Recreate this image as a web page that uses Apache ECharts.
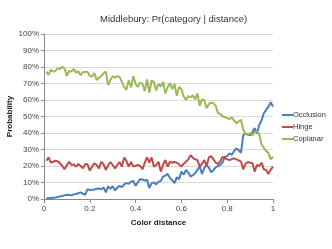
<!DOCTYPE html>
<html><head><meta charset="utf-8">
<script src="https://cdn.jsdelivr.net/npm/echarts@6/dist/echarts.min.js"></script>
<style>html,body{margin:0;padding:0;background:#fff}#c{width:332px;height:249px}</style>
</head><body><div id="c"></div>
<script>
var titleText = 'Middlebury: Pr(category | distance)';
var xTickLabels = ['0','0.2','0.4','0.6','0.8','1'];
var yTickLabels = ['0%','10%','20%','30%','40%','50%','60%','70%','80%','90%','100%'];
var seriesNames = ['Occlusion','Hinge','Coplanar'];
var distance = [0.01,0.02,0.03,0.04,0.05,0.06,0.07,0.08,0.09,0.10,
0.11,0.12,0.13,0.14,0.15,0.16,0.17,0.18,0.19,0.20,
0.21,0.22,0.23,0.24,0.25,0.26,0.27,0.28,0.29,0.30,
0.31,0.32,0.33,0.34,0.35,0.36,0.37,0.38,0.39,0.40,
0.41,0.42,0.43,0.44,0.45,0.46,0.47,0.48,0.49,0.50,
0.51,0.52,0.53,0.54,0.55,0.56,0.57,0.58,0.59,0.60,
0.61,0.62,0.63,0.64,0.65,0.66,0.67,0.68,0.69,0.70,
0.71,0.72,0.73,0.74,0.75,0.76,0.77,0.78,0.79,0.80,
0.81,0.82,0.83,0.84,0.85,0.86,0.87,0.88,0.89,0.90,
0.91,0.92,0.93,0.94,0.95,0.96,0.97,0.98,0.99,1.00];
var occlusion = [0.4,0.5,0.6,0.8,0.9,1.2,1.6,1.8,2.2,2.6,
2.4,2.2,2.8,3.0,3.5,4.0,3.2,2.6,6.0,5.4,
5.6,5.8,6.2,6.4,6.0,7.0,4.0,7.6,6.2,7.8,
5.2,6.8,8.0,7.2,8.8,9.6,9.2,10.4,11.0,8.0,
10.2,12.0,11.8,11.2,11.6,6.6,9.6,10.0,8.8,10.6,
10.8,13.6,14.2,15.2,12.8,11.4,9.6,13.2,12.0,16.6,
14.8,17.6,16.0,13.6,14.4,15.6,17.8,19.6,15.2,18.8,
20.6,19.0,16.2,17.6,19.2,20.0,20.6,22.4,25.6,26.0,
27.6,26.8,29.0,30.6,29.6,28.0,38.6,39.6,39.0,38.6,
40.4,43.0,39.6,45.0,47.6,52.0,54.0,56.0,58.6,56.0];
var hinge = [23.2,25.2,22.0,22.6,23.2,22.8,21.6,20.0,18.0,20.4,
22.6,20.6,21.0,19.6,21.2,20.0,18.6,21.2,21.0,17.2,
19.6,21.6,20.6,18.6,22.6,21.0,17.6,20.4,22.4,20.6,
18.6,20.6,22.4,19.6,25.2,23.0,19.6,22.4,19.6,20.2,
20.6,20.0,18.0,22.0,25.2,22.0,25.2,19.6,20.6,22.6,
16.6,20.8,23.6,19.6,22.6,22.0,22.4,22.0,21.0,19.6,
21.4,22.6,24.0,26.6,25.0,24.0,23.6,19.6,21.4,23.6,
20.0,25.2,26.0,24.0,22.0,21.2,23.0,25.6,24.8,24.0,
23.6,24.2,24.6,24.0,23.4,22.6,18.0,21.4,22.4,22.0,
21.8,16.6,20.6,20.0,22.0,18.0,17.6,15.2,17.8,19.6];
var coplanar = [77.2,75.2,78.4,77.2,77.6,79.2,78.8,80.2,79.0,74.6,
77.6,77.2,78.8,76.6,77.4,75.0,77.0,77.0,77.2,74.6,
74.2,76.4,72.2,73.4,74.4,76.2,77.2,69.0,72.2,74.4,
73.6,74.4,74.0,71.0,68.0,66.2,72.0,67.6,74.4,69.8,
68.0,70.6,69.8,65.4,72.4,64.4,71.8,70.8,65.8,69.8,
68.2,71.0,64.0,67.8,70.2,66.6,69.8,62.6,67.8,66.6,
62.2,60.0,62.4,61.6,62.8,60.4,64.0,56.4,60.4,60.0,
55.0,57.6,58.4,58.0,56.4,52.0,51.6,50.0,49.6,49.0,
48.4,49.4,47.6,46.0,47.0,48.0,42.0,39.6,38.8,40.0,
38.6,40.6,41.0,39.0,33.0,31.0,29.0,28.0,24.0,25.6];
var colors = ['#4A7EBB','#BE4B48','#98B954'];

function pairs(vals){ return distance.map(function(d,i){ return [d, vals[i]]; }); }
var allVals = [occlusion, hinge, coplanar];
var font = 'Liberation Sans, Arial, sans-serif';
var chart = echarts.init(document.getElementById('c'), null, {renderer:'canvas'});
chart.setOption({
  animation:false,
  backgroundColor:'#fff',
  title:{text:titleText,left:100,top:14,padding:0,textStyle:{fontFamily:font,fontSize:9.5,fontWeight:'normal',color:'#333'}},
  grid:{left:44,right:59,top:34,bottom:50,containLabel:false,outerBoundsMode:'none'},
  legend:{orient:'vertical',left:282,top:111,padding:0,itemWidth:11,itemHeight:2,itemGap:4,icon:'rect',
    textStyle:{fontFamily:font,fontSize:7.5,color:'#333',padding:[0,0,0,-5]},
    data:seriesNames},
  xAxis:{type:'value',min:0,max:1,interval:0.2,
    name:'Color distance',nameLocation:'middle',nameGap:20,nameMoveOverlap:false,
    nameTextStyle:{fontFamily:font,fontSize:8,fontWeight:'bold',color:'#222'},
    axisLine:{show:true,lineStyle:{color:'#888',width:1}},
    axisTick:{show:true,length:4,lineStyle:{color:'#888'}},
    axisLabel:{fontFamily:font,fontSize:8,color:'#444',margin:6,formatter:function(v){return xTickLabels[Math.round(v/0.2)];}},
    splitLine:{show:false}},
  yAxis:{type:'value',min:0,max:100,interval:10,
    name:'Probability',nameLocation:'middle',nameGap:30,nameRotate:90,nameMoveOverlap:false,
    nameTextStyle:{fontFamily:font,fontSize:8,fontWeight:'bold',color:'#222'},
    axisLine:{show:true,lineStyle:{color:'#888',width:1}},
    axisTick:{show:true,length:3,lineStyle:{color:'#888'}},
    axisLabel:{fontFamily:font,fontSize:8,color:'#444',margin:5,formatter:function(v){return yTickLabels[Math.round(v/10)];}},
    splitLine:{show:true,lineStyle:{color:'#D9D9D9',width:1}}},
  series:seriesNames.map(function(n,k){
    return {name:n,type:'line',data:pairs(allVals[k]),showSymbol:false,symbol:'none',
      lineStyle:{color:colors[k],width:2},itemStyle:{color:colors[k]}};
  })
});
</script></body></html>
